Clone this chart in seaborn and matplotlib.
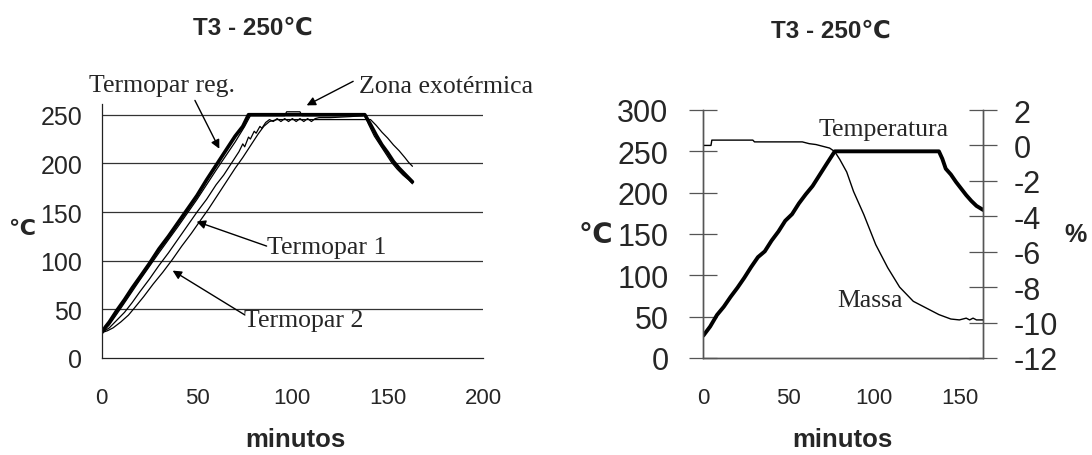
import pandas as pd
import matplotlib
matplotlib.use("Agg")
import matplotlib.pyplot as plt
import seaborn as sns

# --- left chart: thermocouples ---
tempo_prog = [0, 2, 4, 8, 12, 16, 20, 25, 30, 35, 40, 45, 50, 55, 60, 65, 70, 74, 77,
              138, 141, 144, 147, 150, 153, 156, 159, 161, 163]
temp_prog = [26, 32, 37, 49, 60, 72, 83, 97, 112, 125, 139, 153, 167, 183, 198, 213, 228, 238, 250,
             250, 240, 229, 219, 211, 202, 195, 189, 185, 181]

tempo_reg = [0, 4, 10, 20, 30, 40, 50, 60, 70, 75, 78, 96, 97, 104, 105,
             138, 140, 143, 146, 149, 152, 155, 158, 161, 163]
termopar_reg = [26, 34, 51, 80, 108, 135, 163, 193, 222, 238, 249, 249, 253, 253, 249,
                249, 240, 228, 219, 210, 201, 194, 188, 183, 179]

tempo_t1 = [0, 4, 8, 12, 16, 20, 25, 30, 35, 40, 45, 50, 55, 60, 64, 68, 72, 74, 75, 77, 78,
            80, 81, 83, 84, 86, 88, 90, 92, 94, 96, 98, 100, 102, 104, 106, 108, 110, 112, 114,
            120, 130, 137]
termopar_1 = [26, 31, 39, 47, 57, 68, 81, 95, 108, 122, 136, 150, 163, 178, 188, 200, 212, 220, 217,
              227, 225, 233, 231, 238, 236, 242, 245, 243, 246, 243, 246, 243, 246, 243, 246, 243,
              246, 243, 246, 247, 247, 248, 249]

tempo_t2 = [0, 3, 6, 10, 14, 17, 22, 27, 32, 37, 42, 47, 52, 56, 61, 66, 70, 74, 78, 82, 85, 88,
            92, 100, 120, 141, 144, 147, 150, 153, 156, 159, 161, 163]
termopar_2 = [26, 28, 31, 37, 44, 51, 63, 76, 88, 101, 115, 128, 142, 153, 168, 183, 195, 206,
              218, 230, 238, 243, 245, 245, 245, 245, 239, 232, 226, 219, 213, 206, 201, 197]

# --- right chart: temperature and mass ---
tempo_temp = [0, 4, 8, 12, 16, 20, 24, 28, 32, 36, 40, 44, 48, 52, 56, 60, 64, 68, 72, 77,
              100, 120, 138, 140, 142, 145, 148, 151, 154, 157, 160, 164]
temperatura = [27, 38, 52, 62, 74, 85, 97, 110, 122, 129, 142, 153, 166, 174, 187, 198, 208, 221,
               234, 250, 250, 250, 250, 241, 229, 222, 213, 205, 197, 190, 184, 179]

tempo_massa = [0, 4.5, 5, 10, 20, 29, 30, 40, 50, 58, 62, 66, 70, 74, 77, 80, 84, 88, 94, 101,
               108, 115, 123, 133, 138, 145, 150, 154, 156, 158, 160, 164]
massa = [0, 0, 0.3, 0.3, 0.3, 0.3, 0.2, 0.2, 0.2, 0.2, 0.1, 0.05, -0.05, -0.15, -0.35, -0.8,
         -1.5, -2.6, -3.9, -5.6, -6.9, -8.0, -8.8, -9.3, -9.55, -9.8, -9.85, -9.75, -9.85,
         -9.75, -9.85, -9.85]

sns.set_style("white")
plt.rcParams["font.family"] = ["Liberation Sans", "DejaVu Sans"]
plt.rcParams["axes.unicode_minus"] = False
serif = ["Liberation Serif", "DejaVu Serif"]

fig = plt.figure(figsize=(10.92, 4.56), dpi=100)

# ---------------- left ----------------
ax = fig.add_axes([101.7 / 1092, 97 / 456, 381.3 / 1092, 254 / 456])
sns.lineplot(x=tempo_t2, y=termopar_2, ax=ax, color="black", lw=0.9, estimator=None)
sns.lineplot(x=tempo_t1, y=termopar_1, ax=ax, color="black", lw=0.9, estimator=None)
sns.lineplot(x=tempo_reg, y=termopar_reg, ax=ax, color="black", lw=0.9, estimator=None)
sns.lineplot(x=tempo_prog, y=temp_prog, ax=ax, color="black", lw=2.6, estimator=None)

ax.set_xlim(0, 200)
ax.set_ylim(0, 261)
ax.set_xticks([0, 50, 100, 150, 200])
ax.set_yticks([0, 50, 100, 150, 200, 250])
for v in [50, 100, 150, 200, 250]:
    ax.axhline(v, color="#333333", lw=0.9, zorder=0)
for s in ["top", "right"]:
    ax.spines[s].set_visible(False)
for s in ["left", "bottom"]:
    ax.spines[s].set_color("#222222")
    ax.spines[s].set_linewidth(0.9)
ax.tick_params(axis="y", direction="out", length=6, width=0.8, pad=8, labelsize=18)
ax.tick_params(axis="x", direction="out", length=6, width=0.8, pad=15, labelsize=16)

ax.set_xlabel("minutos", fontsize=18.5, fontweight="bold", va="center")
ax.xaxis.set_label_coords(0.507, -0.319)
ax.set_ylabel("℃", fontsize=16, fontweight="bold", rotation=0, va="center", ha="center")
ax.yaxis.set_label_coords(-0.21, 0.508)

arrow = dict(arrowstyle="-|>", color="black", lw=1.0, mutation_scale=13, shrinkA=0, shrinkB=0)
ax.text(31.5, 281, "Termopar reg.", family=serif, fontsize=18.5, ha="center", va="center")
ax.annotate("", xy=(61.7, 215), xytext=(48.9, 264.7), arrowprops=arrow, annotation_clip=False)
ax.text(180.5, 280, "Zona exotérmica", family=serif, fontsize=18.5, ha="center", va="center")
ax.annotate("", xy=(107.5, 259.6), xytext=(131.9, 284.3), arrowprops=arrow, annotation_clip=False)
ax.text(118, 114, "Termopar 1", family=serif, fontsize=18.5, ha="center", va="center")
ax.annotate("", xy=(49.8, 140.2), xytext=(86.5, 115), arrowprops=arrow, annotation_clip=False)
ax.text(106, 39, "Termopar 2", family=serif, fontsize=18.5, ha="center", va="center")
ax.annotate("", xy=(37.2, 89.8), xytext=(75.1, 44.2), arrowprops=arrow, annotation_clip=False)

fig.text(253 / 1092, 1 - 28 / 456, "T3 - 250℃", fontsize=17.5, fontweight="bold",
         ha="center", va="center")

# ---------------- right ----------------
bx = fig.add_axes([703.3 / 1092, 97 / 456, 280 / 1092, 248 / 456])
bx2 = bx.twinx()
sns.lineplot(x=tempo_temp, y=temperatura, ax=bx, color="black", lw=2.8, estimator=None)
sns.lineplot(x=tempo_massa, y=massa, ax=bx2, color="black", lw=1.0, estimator=None)

bx.set_xlim(0, 164)
bx.set_ylim(0, 300)
bx2.set_ylim(-12, 2)
bx.set_xticks([0, 50, 100, 150])
bx.set_yticks(range(0, 301, 50))
bx2.set_yticks(range(-12, 3, 2))
for a in (bx, bx2):
    a.spines["top"].set_visible(False)
    for s in ["left", "right", "bottom"]:
        a.spines[s].set_color("#555555")
        a.spines[s].set_linewidth(1.0)
bx.tick_params(axis="y", direction="inout", length=20, width=0.9, color="#555555",
               pad=15, labelsize=22)
bx2.tick_params(axis="y", direction="inout", length=20, width=0.9, color="#555555",
                pad=12, labelsize=22)
bx.tick_params(axis="x", direction="in", length=6, width=0.9, color="#555555",
               pad=21, labelsize=16)

bx.set_xlabel("minutos", fontsize=18.5, fontweight="bold", va="center")
bx.xaxis.set_label_coords(0.495, -0.327)
bx.set_ylabel("℃", fontsize=20, fontweight="bold", rotation=0, va="center", ha="center")
bx.yaxis.set_label_coords(-0.387, 0.496)
bx2.set_ylabel("%", fontsize=18, fontweight="bold", rotation=0, va="center", ha="center")
bx2.yaxis.set_label_coords(1.331, 0.5)

bx.text(105.6, 277, "Temperatura", family=serif, fontsize=18.5, ha="center", va="center")
bx.text(97.8, 70, "Massa", family=serif, fontsize=18.5, ha="center", va="center")

fig.text(831 / 1092, 1 - 31 / 456, "T3 - 250℃", fontsize=17.5, fontweight="bold",
         ha="center", va="center")

fig.savefig("out.png", dpi=100)
